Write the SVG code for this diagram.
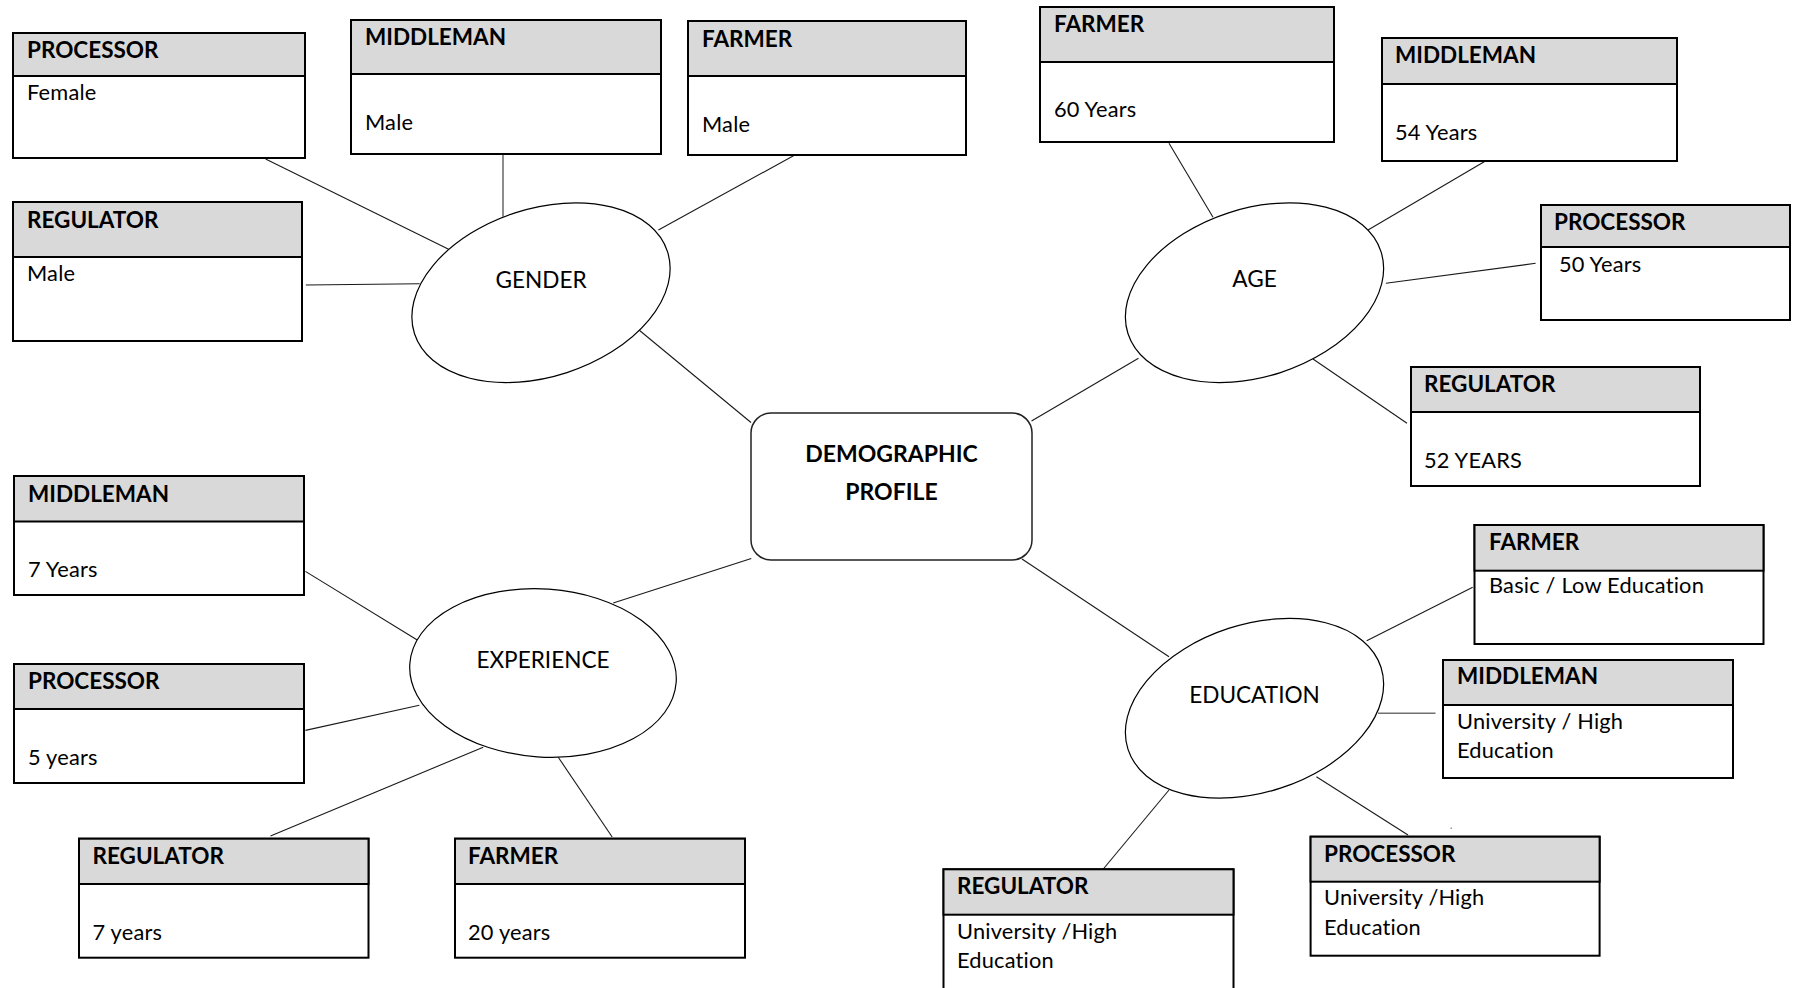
<svg xmlns="http://www.w3.org/2000/svg" width="1798" height="988" viewBox="0 0 1798 988">
  <style>
    .frame { fill: #ffffff; stroke: #000000; stroke-width: 2; }
    .head { fill: #d9d9d9; stroke: #000000; stroke-width: 2; }
    .oval { fill: #ffffff; stroke: #000000; stroke-width: 1.2; }
    .core { fill: #ffffff; stroke: #222222; stroke-width: 1.5; }
    .link { stroke: #1a1a1a; stroke-width: 1.1; fill: none; }
    .link.soft { stroke: #707070; stroke-width: 1.6; }
    .th { font-family: Lato, "Liberation Sans", sans-serif; font-weight: bold; font-size: 22.5px; fill: #000000; }
    .tb { font-family: Lato, "Liberation Sans", sans-serif; font-size: 21.8px; letter-spacing: 0.2px; fill: #000000; }
    .tc { font-family: Lato, "Liberation Sans", sans-serif; font-size: 22.6px; fill: #000000; text-anchor: middle; }
    .tm { font-family: Lato, "Liberation Sans", sans-serif; font-weight: bold; font-size: 23px; fill: #000000; text-anchor: middle; }
  </style>
  <rect x="0" y="0" width="1798" height="988" fill="#ffffff"/>

  <!-- connectors -->
  <g id="connectors">
    <!-- gender -->
    <line class="link" x1="265.6" y1="159" x2="448.6" y2="249.3"/>
    <line class="link soft" x1="503" y1="154" x2="503" y2="216.7"/>
    <line class="link" x1="305.8" y1="285" x2="419.6" y2="283.7"/>
    <line class="link" x1="799.8" y1="152.3" x2="658.4" y2="230"/>
    <line class="link" x1="639" y1="330" x2="751" y2="422.5"/>
    <!-- age -->
    <line class="link" x1="1169" y1="143.3" x2="1213" y2="217.3"/>
    <line class="link" x1="1491" y1="157.7" x2="1368" y2="230"/>
    <line class="link" x1="1535.6" y1="263.3" x2="1385.9" y2="283.3"/>
    <line class="link" x1="1313" y1="359" x2="1407" y2="423.3"/>
    <line class="link" x1="1138.5" y1="358.3" x2="1031.5" y2="421"/>
    <!-- experience -->
    <line class="link" x1="305.4" y1="571.4" x2="419.3" y2="641.3"/>
    <line class="link" x1="305.4" y1="730.4" x2="419.3" y2="705.2"/>
    <line class="link" x1="270.5" y1="836" x2="483.2" y2="747.2"/>
    <line class="link" x1="612.2" y1="837" x2="557.4" y2="756"/>
    <line class="link" x1="613.2" y1="602.9" x2="751.3" y2="558.5"/>
    <!-- education -->
    <line class="link" x1="1022" y1="559" x2="1169" y2="656.7"/>
    <line class="link" x1="1472.7" y1="587.3" x2="1366.7" y2="640.7"/>
    <line class="link soft" x1="1435.5" y1="713.3" x2="1378" y2="713.3"/>
    <line class="link" x1="1408" y1="835" x2="1316.4" y2="776.7"/>
    <line class="link" x1="1103.3" y1="869" x2="1169" y2="790"/>
  </g>

  <!-- centre -->
  <g id="demographic-profile">
    <rect class="core" x="751" y="413" width="281" height="147" rx="20" ry="20"/>
    <text class="tm" x="891.5" y="462">DEMOGRAPHIC</text>
    <text class="tm" x="891.5" y="499.5">PROFILE</text>
  </g>

  <!-- category ovals -->
  <g id="gender">
    <ellipse class="oval" cx="541" cy="292.7" rx="133" ry="84" transform="rotate(-18 541 292.7)"/>
    <text class="tc" x="541" y="288">GENDER</text>
  </g>
  <g id="age">
    <ellipse class="oval" cx="1254.5" cy="292.7" rx="133" ry="84" transform="rotate(-18 1254.5 292.7)"/>
    <text class="tc" x="1254.5" y="287">AGE</text>
  </g>
  <g id="experience">
    <ellipse class="oval" cx="543" cy="673" rx="133.5" ry="84" transform="rotate(4 543 673)"/>
    <text class="tc" x="543" y="667.5">EXPERIENCE</text>
  </g>
  <g id="education">
    <ellipse class="oval" cx="1254.5" cy="708.3" rx="133" ry="84" transform="rotate(-18 1254.5 708.3)"/>
    <text class="tc" x="1254.5" y="702.5">EDUCATION</text>
  </g>

  <!-- gender boxes -->
  <g id="gender-processor">
    <rect class="frame" x="13" y="33" width="292" height="125"/>
    <rect class="head" x="13" y="33" width="292" height="43"/>
    <text class="th" x="27" y="58">PROCESSOR</text>
    <text class="tb" x="27" y="100">Female</text>
  </g>
  <g id="gender-middleman">
    <rect class="frame" x="351" y="20" width="310" height="134"/>
    <rect class="head" x="351" y="20" width="310" height="54"/>
    <text class="th" x="365" y="45">MIDDLEMAN</text>
    <text class="tb" x="365" y="130">Male</text>
  </g>
  <g id="gender-regulator">
    <rect class="frame" x="13" y="202" width="289" height="139"/>
    <rect class="head" x="13" y="202" width="289" height="55"/>
    <text class="th" x="27" y="228">REGULATOR</text>
    <text class="tb" x="27" y="281">Male</text>
  </g>
  <g id="gender-farmer">
    <rect class="frame" x="688" y="21" width="278" height="134"/>
    <rect class="head" x="688" y="21" width="278" height="55"/>
    <text class="th" x="702" y="47">FARMER</text>
    <text class="tb" x="702" y="132">Male</text>
  </g>

  <!-- age boxes -->
  <g id="age-farmer">
    <rect class="frame" x="1040" y="7" width="294" height="135"/>
    <rect class="head" x="1040" y="7" width="294" height="55"/>
    <text class="th" x="1054" y="32">FARMER</text>
    <text class="tb" x="1054" y="117">60 Years</text>
  </g>
  <g id="age-middleman">
    <rect class="frame" x="1382" y="38" width="295" height="123"/>
    <rect class="head" x="1382" y="38" width="295" height="46"/>
    <text class="th" x="1395" y="63">MIDDLEMAN</text>
    <text class="tb" x="1395" y="140">54 Years</text>
  </g>
  <g id="age-processor">
    <rect class="frame" x="1541" y="205" width="249" height="115"/>
    <rect class="head" x="1541" y="205" width="249" height="42"/>
    <text class="th" x="1554" y="230">PROCESSOR</text>
    <text class="tb" x="1559" y="272">50 Years</text>
  </g>
  <g id="age-regulator">
    <rect class="frame" x="1411" y="367" width="289" height="119"/>
    <rect class="head" x="1411" y="367" width="289" height="45"/>
    <text class="th" x="1424" y="392">REGULATOR</text>
    <text class="tb" x="1424" y="468">52 YEARS</text>
  </g>

  <!-- experience boxes -->
  <g id="experience-middleman">
    <rect class="frame" x="14" y="476" width="290" height="119"/>
    <rect class="head" x="14" y="476" width="290" height="45.5"/>
    <text class="th" x="28" y="501.5">MIDDLEMAN</text>
    <text class="tb" x="28" y="577">7 Years</text>
  </g>
  <g id="experience-processor">
    <rect class="frame" x="14" y="664" width="290" height="119"/>
    <rect class="head" x="14" y="664" width="290" height="45"/>
    <text class="th" x="28" y="688.5">PROCESSOR</text>
    <text class="tb" x="28" y="765">5 years</text>
  </g>
  <g id="experience-regulator">
    <rect class="frame" x="79" y="838.7" width="289.5" height="119"/>
    <rect class="head" x="79" y="838.7" width="289.5" height="45.3"/>
    <text class="th" x="92.5" y="864">REGULATOR</text>
    <text class="tb" x="92.5" y="940">7 years</text>
  </g>
  <g id="experience-farmer">
    <rect class="frame" x="455" y="838.7" width="290" height="119"/>
    <rect class="head" x="455" y="838.7" width="290" height="45.3"/>
    <text class="th" x="468" y="864">FARMER</text>
    <text class="tb" x="468" y="940">20 years</text>
  </g>

  <!-- education boxes -->
  <g id="education-farmer">
    <rect class="frame" x="1474.5" y="525" width="289" height="119"/>
    <rect class="head" x="1474.5" y="525" width="289" height="45.7"/>
    <text class="th" x="1489" y="550">FARMER</text>
    <text class="tb" x="1489" y="593">Basic / Low Education</text>
  </g>
  <g id="education-middleman">
    <rect class="frame" x="1443" y="660" width="290" height="118"/>
    <rect class="head" x="1443" y="660" width="290" height="45"/>
    <text class="th" x="1457" y="684">MIDDLEMAN</text>
    <text class="tb" x="1457" y="729">University / High</text>
    <text class="tb" x="1457" y="758">Education</text>
  </g>
  <g id="education-processor">
    <rect class="frame" x="1310.6" y="836.7" width="289" height="119"/>
    <rect class="head" x="1310.6" y="836.7" width="289" height="45"/>
    <text class="th" x="1324" y="862">PROCESSOR</text>
    <text class="tb" x="1324" y="905">University /High</text>
    <text class="tb" x="1324" y="935">Education</text>
  </g>
  <g id="education-regulator">
    <rect class="frame" x="943.5" y="869.3" width="290" height="125"/>
    <rect class="head" x="943.5" y="869.3" width="290" height="45.4"/>
    <text class="th" x="957" y="894">REGULATOR</text>
    <text class="tb" x="957" y="939">University /High</text>
    <text class="tb" x="957" y="968">Education</text>
  </g>

  <!-- stray speck -->
  <rect x="1450.5" y="827.5" width="1.5" height="1.5" fill="#9a9a9a"/>
</svg>
